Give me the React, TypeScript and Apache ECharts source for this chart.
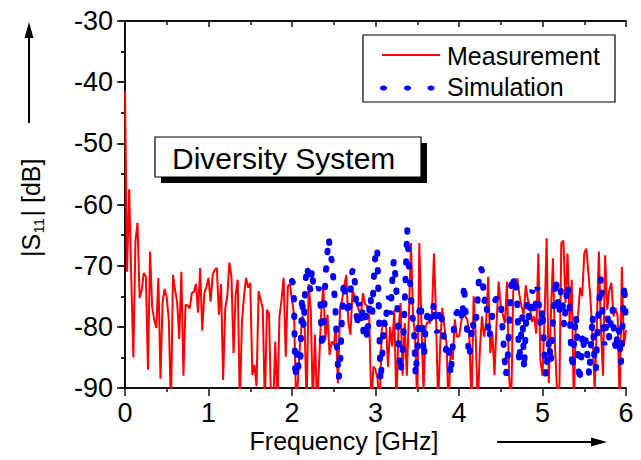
import React, { useEffect, useRef } from "react";
import * as echarts from "echarts";

// Measurement: |S11| in dB, sampled every 0.025 GHz from 0 to 6 GHz
const MEAS_START_GHZ = 0;
const MEAS_STEP_GHZ = 0.025;
const measurementDb = [
  -41.5, -71, -57.5, -72, -85, -66, -63, -75.3, -74, -71.2,
  -71.8, -87, -67.7, -76.7, -78.9, -80.2, -72, -88.5, -76, -73.8,
  -75.2, -79, -93, -71.5, -74, -76, -82, -71, -88, -76.4,
  -76.5, -77, -74.5, -74.3, -73, -77.7, -70.4, -80.6, -74.5, -73.5,
  -72, -75.9, -71.5, -70.7, -70.4, -78, -73, -88.7, -77, -75,
  -69.5, -71.8, -84.3, -74.8, -72.3, -93, -79.4, -75, -72, -73.6,
  -72.8, -87.9, -86.2, -89.7, -74.2, -75.6, -77, -93, -77.2, -77.9,
  -93, -93, -82.4, -93, -78.3, -75.6, -72, -84.9, -73.4, -73,
  -75.6, -78, -93, -88, -82, -78.3, -79, -93, -73, -77.2,
  -93, -81.3, -93, -85.9, -77.7, -73.4, -82, -78, -84.6, -82.4,
  -83, -80, -89.2, -77.2, -75.6, -73.4, -71.5, -79.2, -81.3, -74,
  -75, -76.3, -77.2, -78.3, -74.5, -76.3, -76.6, -78.3, -93, -86.5,
  -87, -88.5, -93, -80.5, -79, -79.4, -86.5, -80, -83.2, -77.2,
  -93, -80.5, -76.1, -88, -79.4, -88, -78.3, -66.3, -78.3, -81.6,
  -93, -66.3, -79.4, -90.5, -80, -79.2, -79.4, -78.3, -68, -78.3,
  -93, -82.7, -76.9, -80, -82.7, -93, -83.8, -85.4, -78.8, -81.6,
  -81.6, -79.4, -77.2, -78.3, -78.8, -82, -93, -75, -81.6, -93,
  -83.8, -78.3, -81.6, -79.4, -71.8, -84.3, -81.1, -87.9, -79.4, -72.6,
  -76.7, -78, -79.4, -72.6, -88, -93, -74, -72.6, -72.1, -75,
  -76.7, -78, -73.2, -75.6, -76.7, -79.2, -78.3, -81.1, -68, -85.4,
  -88, -78.3, -65.5, -89.2, -78.3, -68.8, -83.2, -90.5, -93, -66.3,
  -65.9, -76.1, -68, -79.4, -72.3, -93, -78.8, -78.3, -73.6, -75,
  -68, -67.2, -71.2, -75.6, -81.6, -90.5, -80, -67.7, -80.5, -88,
  -68.3, -77.2, -74, -72.8, -78.3, -76.9, -78.3, -93, -70.2, -83.2,
  -80.5,
];

// Simulation: |S11| in dB, sampled every 0.02 GHz from 2 to 6 GHz
const SIM_START_GHZ = 2;
const SIM_STEP_GHZ = 0.02;
const simulationDb = [
  -72.5, -73, -88.5, -84, -87, -86, -75, -80, -73, -70,
  -72, -74, -70.5, -74, -73.8, -74, -73.5, -76, -83.5, -80,
  -72, -68.5, -65.5, -68, -69.5, -73, -77, -84, -88.5, -85,
  -78, -72.5, -76, -76.5, -78.2, -74.3, -71, -70.4, -74, -80,
  -76, -79, -77, -82, -78, -82, -78, -75, -78, -72,
  -68, -67, -77, -89, -85, -79, -80, -76, -75, -78,
  -72.5, -69, -72, -76, -84, -87.5, -85, -80, -72, -64,
  -70, -74, -78, -80, -88, -84, -78, -76, -80, -85,
  -80, -78, -77, -79, -78, -76, -80, -81, -78, -77,
  -79.5, -82, -84, -82.5, -84, -88, -84, -80, -78, -77.5,
  -78, -77, -79, -73, -78, -81, -85, -83, -79, -80.5,
  -79.5, -76, -72, -70.3, -71, -76, -75, -78, -82, -80,
  -78, -76, -75.5, -75, -75.5, -76, -80, -84, -88, -86,
  -80, -74, -71.5, -73, -72, -77, -86, -82, -78, -87,
  -80, -76, -79, -75, -74, -78, -76, -73.5, -77, -80,
  -77, -84, -88, -85, -82, -86, -80, -76, -72, -75,
  -78, -74, -76, -80, -76, -73, -75, -83, -87, -82,
  -78, -83, -89, -86, -81, -84, -82, -85, -88, -83,
  -78, -85, -87, -80, -76, -72, -78, -83, -80, -78,
  -82, -79, -77, -82, -84, -80, -81, -86, -79, -73,
  -80,
];

const X_MIN = 0, X_MAX = 6, X_INTERVAL = 1;
const Y_MIN = -90, Y_MAX = -30, Y_INTERVAL = 10;

const seriesNames = ["Measurement", "Simulation"];
const boxTitle = "Diversity System";
const xAxisTitle = "Frequency [GHz]";

const FONT = "'Liberation Sans', Arial, Helvetica, sans-serif";

function toPairs(start: number, step: number, vals: number[]) {
  return vals.map((v, i) => [+(start + i * step).toFixed(4), v]);
}

export default function App() {
  const ref = useRef<HTMLDivElement>(null);
  useEffect(() => {
    if (!ref.current) return;
    const chart = echarts.init(ref.current, undefined, { renderer: "svg" });
    const axisLine = { show: true, lineStyle: { color: "#111", width: 2 } };
    const minorTick = { show: true, splitNumber: 2, length: 4, lineStyle: { color: "#111", width: 1.5 } };
    const baseX = {
      type: "value",
      min: X_MIN,
      max: X_MAX,
      interval: X_INTERVAL,
      splitLine: { show: false },
      axisLine,
      minorTick,
    };
    const baseY = {
      type: "value",
      min: Y_MIN,
      max: Y_MAX,
      interval: Y_INTERVAL,
      splitLine: { show: false },
      axisLine,
      minorTick,
    };
    const option: any = {
      animation: false,
      backgroundColor: "#fff",
      grid: { left: 125, right: 15, top: 21, bottom: 72, containLabel: false },
      xAxis: [
        {
          ...baseX,
          position: "bottom",
          axisTick: { show: true, inside: false, length: 8, lineStyle: { color: "#111", width: 1.5 } },
          axisLabel: { show: true, color: "#000", fontSize: 27, fontFamily: FONT, margin: 11 },
        },
        {
          ...baseX,
          position: "top",
          axisTick: { show: true, inside: true, length: 6, lineStyle: { color: "#111", width: 1.5 } },
          axisLabel: { show: false },
        },
      ],
      yAxis: [
        {
          ...baseY,
          position: "left",
          axisTick: { show: true, inside: false, length: 8, lineStyle: { color: "#111", width: 1.5 } },
          axisLabel: { show: true, color: "#000", fontSize: 27, fontFamily: FONT, margin: 12 },
        },
        {
          ...baseY,
          position: "right",
          axisTick: { show: true, inside: true, length: 6, lineStyle: { color: "#111", width: 1.5 } },
          axisLabel: { show: false },
        },
      ],
      series: [
        {
          name: seriesNames[0],
          type: "line",
          xAxisIndex: 0,
          yAxisIndex: 0,
          data: toPairs(MEAS_START_GHZ, MEAS_STEP_GHZ, measurementDb),
          showSymbol: false,
          symbol: "none",
          clip: true,
          lineStyle: { color: "#ff0000", width: 2 },
        },
        {
          name: seriesNames[1],
          type: "line",
          xAxisIndex: 0,
          yAxisIndex: 0,
          data: toPairs(SIM_START_GHZ, SIM_STEP_GHZ, simulationDb),
          showSymbol: false,
          symbol: "none",
          clip: true,
          lineStyle: { color: "#0000ff", width: 6, type: [1.5, 16], cap: "round" },
        },
      ],
      graphic: [
        // legend box
        {
          type: "rect",
          z: 100,
          shape: { x: 363, y: 35, width: 252, height: 67 },
          style: { fill: "#fff", stroke: "#000", lineWidth: 1.2 },
        },
        {
          type: "line",
          z: 101,
          shape: { x1: 382, y1: 55, x2: 440, y2: 55 },
          style: { stroke: "#ff0000", lineWidth: 2 },
        },
        { type: "ellipse", z: 101, shape: { cx: 383.5, cy: 88, rx: 3.6, ry: 2.6 }, style: { fill: "#0000ff" } },
        { type: "ellipse", z: 101, shape: { cx: 407.5, cy: 88, rx: 3.6, ry: 2.6 }, style: { fill: "#0000ff" } },
        { type: "ellipse", z: 101, shape: { cx: 431, cy: 88, rx: 3.6, ry: 2.6 }, style: { fill: "#0000ff" } },
        {
          type: "text",
          z: 101,
          x: 447,
          y: 56,
          style: { text: seriesNames[0], fill: "#000", font: `25px ${FONT}`, verticalAlign: "middle" },
        },
        {
          type: "text",
          z: 101,
          x: 447,
          y: 87,
          style: { text: seriesNames[1], fill: "#000", font: `25px ${FONT}`, verticalAlign: "middle" },
        },
        // Diversity System box with shadow
        {
          type: "rect",
          z: 100,
          shape: { x: 161, y: 143, width: 266, height: 40 },
          style: { fill: "#000" },
        },
        {
          type: "rect",
          z: 101,
          shape: { x: 155, y: 137, width: 266, height: 40 },
          style: { fill: "#fff", stroke: "#000", lineWidth: 1.2 },
        },
        {
          type: "text",
          z: 102,
          x: 172,
          y: 158,
          style: { text: boxTitle, fill: "#000", font: `30px ${FONT}`, verticalAlign: "middle" },
        },
        // x axis title and arrow
        {
          type: "text",
          x: 344,
          y: 441,
          style: { text: xAxisTitle, fill: "#000", font: `25px ${FONT}`, align: "center", verticalAlign: "middle" },
        },
        {
          type: "line",
          shape: { x1: 497, y1: 442, x2: 596, y2: 442 },
          style: { stroke: "#000", lineWidth: 2 },
        },
        {
          type: "polygon",
          shape: { points: [[607, 442], [591, 437.5], [591, 446.5]] },
          style: { fill: "#000" },
        },
        // y axis title (rotated) and arrow
        {
          type: "group",
          x: 31,
          y: 208,
          rotation: Math.PI / 2,
          children: [
            { type: "text", x: -49, y: 0, style: { text: "|S", fill: "#000", font: `25px ${FONT}`, verticalAlign: "middle" } },
            { type: "text", x: -25.5, y: 7, style: { text: "11", fill: "#000", font: `15px ${FONT}`, verticalAlign: "middle" } },
            { type: "text", x: -8.5, y: 0, style: { text: "| [dB]", fill: "#000", font: `25px ${FONT}`, verticalAlign: "middle" } },
          ],
        },
        {
          type: "line",
          shape: { x1: 29, y1: 123, x2: 29, y2: 34 },
          style: { stroke: "#000", lineWidth: 2 },
        },
        {
          type: "polygon",
          shape: { points: [[29, 22], [24.5, 38], [33.5, 38]] },
          style: { fill: "#000" },
        },
      ],
    };
    chart.setOption(option);
    return () => chart.dispose();
  }, []);
  return (
    <div
      ref={ref}
      style={{ position: "fixed", left: 0, top: 0, width: 641, height: 460, background: "#fff" }}
    />
  );
}
